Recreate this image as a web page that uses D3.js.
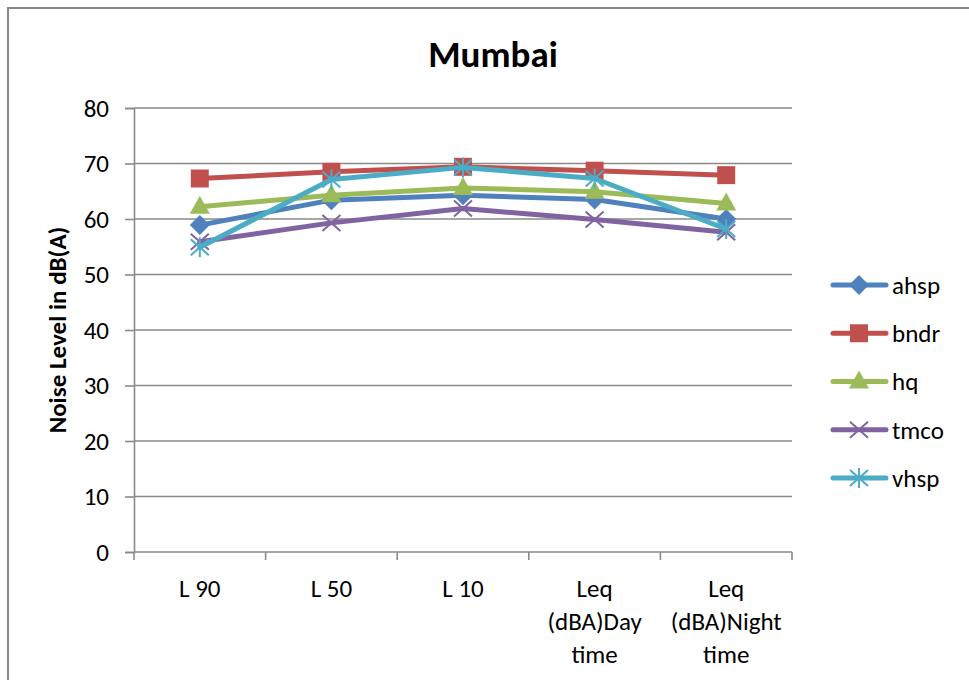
<!DOCTYPE html>
<html>
<head>
<meta charset="utf-8">
<script src="https://cdn.jsdelivr.net/npm/d3@7/dist/d3.min.js"></script>
<style>
  html, body { margin: 0; padding: 0; background: #fff; }
  svg { display: block; font-family: Carlito, Lato, "Liberation Sans", sans-serif; }
</style>
</head>
<body>
<svg id="chart" width="969" height="680"></svg>
<script>
// Noise levels by percentile measure, Mumbai sites
const categories = [["L 90"], ["L 50"], ["L 10"], ["Leq", "(dBA)Day", "time"], ["Leq", "(dBA)Night", "time"]];
const seriesNames = ["ahsp", "bndr", "hq", "tmco", "vhsp"];
const ahsp = [58.9, 63.4, 64.3, 63.5, 60.0];
const bndr = [67.3, 68.5, 69.4, 68.7, 67.9];
const hq   = [62.2, 64.3, 65.6, 64.9, 62.8];
const tmco = [55.9, 59.3, 61.9, 59.9, 57.6];
const vhsp = [54.9, 67.1, 69.3, 67.3, 58.2];
const yTicks = [0, 10, 20, 30, 40, 50, 60, 70, 80];
const title = "Mumbai";
const yTitle = "Noise Level in dB(A)";

const seriesValues = [ahsp, bndr, hq, tmco, vhsp];
const colors = ["#4F81BD", "#C0504D", "#9BBB59", "#8064A2", "#4BACC6"];
const shapes = ["diamond", "square", "triangle", "x", "star"];

const svg = d3.select("#chart");
const plot = { left: 134, right: 792, top: 108, bottom: 552 };
const catKeys = categories.map(c => c.join(" "));

const x = d3.scaleBand().domain(catKeys).range([plot.left, plot.right]);
const y = d3.scaleLinear().domain([0, 80]).range([plot.bottom, plot.top]);
const cx = k => x(k) + x.bandwidth() / 2;

// chart frame
svg.append("rect")
  .attr("x", 8).attr("y", 8).attr("width", 1100).attr("height", 1100)
  .attr("fill", "none").attr("stroke", "#878787").attr("stroke-width", 2);

// title
svg.append("text")
  .attr("x", 493).attr("y", 67)
  .attr("text-anchor", "middle")
  .attr("font-size", 37).attr("font-weight", "bold").attr("fill", "#000")
  .text(title);

// horizontal gridlines
svg.append("g").selectAll("line")
  .data(yTicks.filter(t => t > 0))
  .join("line")
  .attr("x1", plot.left).attr("x2", plot.right)
  .attr("y1", d => y(d)).attr("y2", d => y(d))
  .attr("stroke", "#8a8a8a").attr("stroke-width", 1.6);

// y axis
const yAxis = svg.append("g")
  .attr("transform", `translate(${plot.left},0)`)
  .call(d3.axisLeft(y).tickValues(yTicks).tickSize(9).tickPadding(16));
yAxis.select(".domain").attr("stroke", "#8a8a8a").attr("stroke-width", 1.6);
yAxis.selectAll(".tick line").attr("stroke", "#8a8a8a").attr("stroke-width", 1.6);
yAxis.selectAll(".tick text")
  .attr("font-size", 25).attr("fill", "#000")
  .attr("font-family", "Carlito, Lato, sans-serif");

// x axis line and tick marks on the category boundaries
const xAxis = svg.append("g");
xAxis.append("line")
  .attr("x1", plot.left).attr("x2", plot.right)
  .attr("y1", y(0)).attr("y2", y(0))
  .attr("stroke", "#8a8a8a").attr("stroke-width", 1.6);
const bounds = catKeys.map(k => x(k)).concat([x.range()[1]]);
xAxis.selectAll("line.tk")
  .data(bounds)
  .join("line").attr("class", "tk")
  .attr("x1", d => d).attr("x2", d => d)
  .attr("y1", y(0)).attr("y2", y(0) + 8)
  .attr("stroke", "#8a8a8a").attr("stroke-width", 1.6);

// category labels
categories.forEach((lines, i) => {
  const t = xAxis.append("text")
    .attr("text-anchor", "middle")
    .attr("font-size", 25).attr("fill", "#000");
  lines.forEach((ln, j) => {
    t.append("tspan")
      .attr("x", cx(catKeys[i]))
      .attr("y", 597 + j * 33)
      .text(ln);
  });
});

// y axis title
svg.append("text")
  .attr("transform", `translate(66,${(plot.top + plot.bottom) / 2}) rotate(-90)`)
  .attr("text-anchor", "middle")
  .attr("font-size", 25).attr("font-weight", "bold").attr("fill", "#000")
  .text(yTitle);

// marker drawing
function marker(g, shape, color, px, py) {
  if (shape === "diamond") {
    g.append("path")
      .attr("d", `M${px},${py - 10}L${px + 10},${py}L${px},${py + 10}L${px - 10},${py}Z`)
      .attr("fill", color);
  } else if (shape === "square") {
    g.append("rect")
      .attr("x", px - 9).attr("y", py - 9).attr("width", 18).attr("height", 18)
      .attr("fill", color);
  } else if (shape === "triangle") {
    g.append("path")
      .attr("d", `M${px},${py - 11}L${px + 10},${py + 7}L${px - 10},${py + 7}Z`)
      .attr("fill", color);
  } else if (shape === "x") {
    g.append("path")
      .attr("d", `M${px - 9},${py - 8}L${px + 9},${py + 8}M${px - 9},${py + 8}L${px + 9},${py - 8}`)
      .attr("stroke", color).attr("stroke-width", 2).attr("fill", "none");
  } else if (shape === "star") {
    g.append("path")
      .attr("d", `M${px - 9},${py - 8}L${px + 9},${py + 8}M${px - 9},${py + 8}L${px + 9},${py - 8}M${px},${py - 10}L${px},${py + 10}`)
      .attr("stroke", color).attr("stroke-width", 2).attr("fill", "none");
  }
}

// series lines and markers
const line = d3.line().x((d, i) => cx(catKeys[i])).y(d => y(d));
seriesValues.forEach((vals, s) => {
  const g = svg.append("g");
  g.append("path")
    .datum(vals)
    .attr("d", line)
    .attr("fill", "none")
    .attr("stroke", colors[s]).attr("stroke-width", 5)
    .attr("stroke-linejoin", "round").attr("stroke-linecap", "round");
  vals.forEach((v, i) => marker(g, shapes[s], colors[s], cx(catKeys[i]), y(v)));
});

// legend
const legendY = d3.scalePoint().domain(seriesNames).range([285, 478]);
seriesNames.forEach((name, s) => {
  const g = svg.append("g");
  const ly = legendY(name);
  g.append("line")
    .attr("x1", 833).attr("x2", 886).attr("y1", ly).attr("y2", ly)
    .attr("stroke", colors[s]).attr("stroke-width", 5).attr("stroke-linecap", "round");
  marker(g, shapes[s], colors[s], 859, ly);
  g.append("text")
    .attr("x", 892).attr("y", ly).attr("dy", "0.35em")
    .attr("font-size", 25).attr("fill", "#000")
    .text(name);
});
</script>
</body>
</html>
